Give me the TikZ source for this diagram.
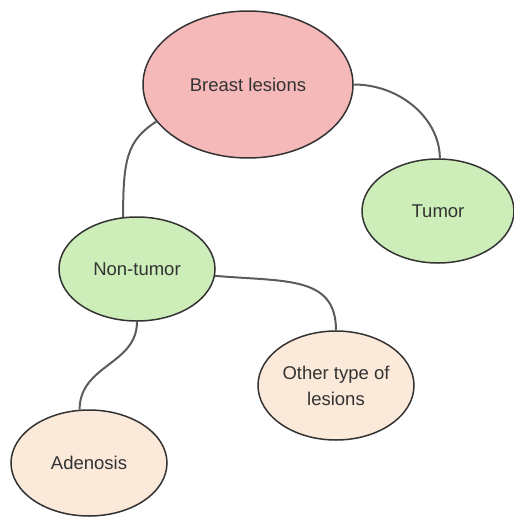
\documentclass[tikz,border=0pt]{standalone}
\usepackage{fontspec}
\setmainfont{Liberation Sans}
\usetikzlibrary{shapes.geometric,positioning}
\definecolor{lesionred}{HTML}{F4B9B8}
\definecolor{lesiongreen}{HTML}{CDEDB9}
\definecolor{lesionpeach}{HTML}{FBE9D9}
\definecolor{inkgray}{HTML}{333333}
\definecolor{linkgray}{HTML}{5C5C5C}

\begin{document}
\begin{tikzpicture}[lesion/.style={ellipse, draw=inkgray, line width=1.5pt, text=inkgray, inner sep=0pt, minimum width=156pt, minimum height=105pt, align=center, font=\fontsize{18.5}{26}\selectfont},
    link/.style={draw=linkgray, line width=2pt}, on grid]
    \useasboundingbox (0,0) rectangle (514pt,-517pt);

    \node[lesion, fill=lesionred, minimum width=210pt, minimum height=147pt] (Breast) at (248pt,-84.5pt) {Breast lesions};
    \node[lesion, fill=lesiongreen, minimum width=152pt, minimum height=104pt] (Tumor) [below right=126.5pt and 190pt of Breast] {Tumor};
    \node[lesion, fill=lesiongreen, minimum height=104pt] (NonTumor) [below left=184.5pt and 111pt of Breast] {Non-tumor};
    \node[lesion, fill=lesionpeach, minimum height=109pt] (Other) [below right=116.5pt and 199pt of NonTumor] {Other type of\\lesions};
    \node[lesion, fill=lesionpeach, minimum height=106pt] (Adenosis) [below left=194pt and 48pt of NonTumor] {Adenosis};

    \draw[link] (Breast.202) to[out=213, in=90, out distance=35pt, in distance=58pt] (NonTumor.105);
    \draw[link] (Breast.east) to[out=0, in=90, out distance=47pt, in distance=39pt] (Tumor.88);
    \draw[link] (NonTumor.-5) to[out=-5, in=90, out distance=70pt, in distance=55pt] (Other.north);
    \draw[link] (NonTumor.south) to[out=-90, in=90, out distance=43pt, in distance=45pt] (Adenosis.100);
\end{tikzpicture}
\end{document}
